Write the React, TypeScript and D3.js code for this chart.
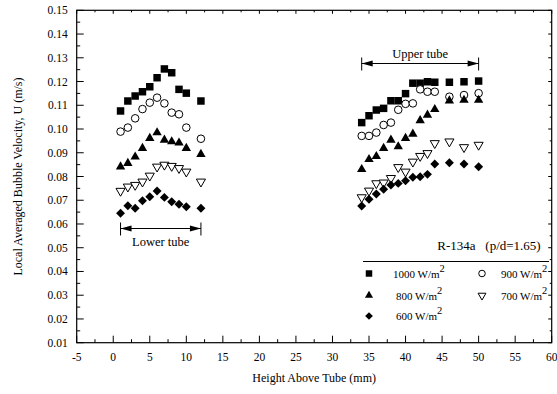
import { useEffect, useRef } from 'react'
import * as d3 from 'd3'

// Posições (mm) – tubo inferior e tubo superior
const lowerX = [1, 2, 3, 4, 5, 6, 7, 8, 9, 10, 12]
const upperX = [34, 35, 36, 37, 38, 39, 40, 41, 42, 43, 44, 46, 48, 50]

// Velocidades (m/s)
const lower1000 = [0.1076, 0.1118, 0.1139, 0.1157, 0.1178, 0.1216, 0.1253, 0.1237, 0.1167, 0.1151, 0.1118]
const upper1000 = [0.1027, 0.1056, 0.108, 0.1087, 0.1119, 0.1119, 0.1149, 0.1193, 0.1193, 0.1199, 0.1197, 0.1197, 0.1199, 0.1202]
const lower900 = [0.0989, 0.1006, 0.1045, 0.1084, 0.1111, 0.1132, 0.1108, 0.1069, 0.1062, 0.1006, 0.0959]
const upper900 = [0.0971, 0.0971, 0.0985, 0.1017, 0.1027, 0.1081, 0.1106, 0.1108, 0.1167, 0.1157, 0.1157, 0.1136, 0.1143, 0.1151]
const lower800 = [0.0841, 0.0856, 0.0883, 0.0919, 0.0961, 0.0985, 0.0954, 0.0947, 0.0942, 0.0919, 0.0894]
const upper800 = [0.083, 0.0872, 0.0885, 0.0919, 0.0954, 0.0926, 0.0961, 0.0979, 0.1036, 0.1059, 0.1083, 0.1119, 0.1122, 0.1122]
const lower700 = [0.0739, 0.0757, 0.0764, 0.0778, 0.0803, 0.0841, 0.0849, 0.0844, 0.0835, 0.082, 0.0778]
const upper700 = [0.0712, 0.074, 0.0771, 0.0774, 0.0793, 0.0839, 0.082, 0.0862, 0.0886, 0.0898, 0.094, 0.0947, 0.0923, 0.0933]
const lower600 = [0.0645, 0.0677, 0.0666, 0.0698, 0.0715, 0.0739, 0.0712, 0.0694, 0.0683, 0.0673, 0.0666]
const upper600 = [0.0676, 0.0704, 0.0726, 0.0746, 0.0764, 0.0771, 0.0782, 0.0797, 0.0799, 0.0809, 0.0853, 0.0858, 0.0853, 0.0841]

const xTicks = [-5, 0, 5, 10, 15, 20, 25, 30, 35, 40, 45, 50, 55, 60]
const yTicks = [0.01, 0.02, 0.03, 0.04, 0.05, 0.06, 0.07, 0.08, 0.09, 0.1, 0.11, 0.12, 0.13, 0.14, 0.15]

const lowerTube = [1, 12]
const upperTube = [34, 50]

type Marker = 'square' | 'circle' | 'triangle' | 'triangleDown' | 'diamond'

const series: { label: string; marker: Marker; lower: number[]; upper: number[] }[] = [
  { label: '1000', marker: 'square', lower: lower1000, upper: upper1000 },
  { label: '900', marker: 'circle', lower: lower900, upper: upper900 },
  { label: '800', marker: 'triangle', lower: lower800, upper: upper800 },
  { label: '700', marker: 'triangleDown', lower: lower700, upper: upper700 },
  { label: '600', marker: 'diamond', lower: lower600, upper: upper600 },
]

const FONT = '"Liberation Serif", "Times New Roman", serif'

function drawMarker(g: any, marker: Marker, cx: number, cy: number, scale = 1) {
  if (marker === 'square') {
    g.append('path').attr('d', d3.symbol(d3.symbolSquare, 56 * scale)()).attr('transform', `translate(${cx},${cy})`).attr('fill', '#000')
  } else if (marker === 'circle') {
    g.append('circle').attr('cx', cx).attr('cy', cy).attr('r', 3.8 * Math.sqrt(scale)).attr('fill', '#fff').attr('stroke', '#000').attr('stroke-width', 1)
  } else if (marker === 'triangle') {
    g.append('path').attr('d', d3.symbol(d3.symbolTriangle, 38 * scale)()).attr('transform', `translate(${cx},${cy})`).attr('fill', '#000')
  } else if (marker === 'triangleDown') {
    g.append('path').attr('d', d3.symbol(d3.symbolTriangle, 36 * scale)()).attr('transform', `translate(${cx},${cy}) rotate(180)`).attr('fill', '#fff').attr('stroke', '#000').attr('stroke-width', 1)
  } else {
    g.append('path').attr('d', d3.symbol(d3.symbolSquare, 40 * scale)()).attr('transform', `translate(${cx},${cy}) rotate(45)`).attr('fill', '#000')
  }
}

export default function App() {
  const svgRef = useRef<SVGSVGElement>(null)

  useEffect(() => {
    const width = 557
    const height = 394
    const margin = { top: 10.3, right: 5.3, bottom: 51.3, left: 76.7 }

    const svg = d3.select(svgRef.current)
    svg.selectAll('*').remove()
    svg.attr('width', width).attr('height', height)

    const x = d3.scaleLinear().domain([-5, 60]).range([margin.left, width - margin.right])
    const y = d3.scaleLinear().domain([0.01, 0.15]).range([height - margin.bottom, margin.top])

    const x0 = x(-5), x1 = x(60), y0 = y(0.01), y1 = y(0.15)

    // Eixos com ticks para dentro
    const xMinor = d3.range(-5, 60.01, 2.5)
    const yMinor = d3.range(0.01, 0.1501, 0.005)

    const ax = svg.append('g').attr('stroke', '#000').attr('stroke-width', 1)
    xMinor.forEach((v, i) => {
      const major = i % 2 === 0
      ax.append('line').attr('x1', x(v)).attr('x2', x(v)).attr('y1', y0).attr('y2', y0 - (major ? 7 : 3.5))
      ax.append('line').attr('x1', x(v)).attr('x2', x(v)).attr('y1', y1).attr('y2', y1 + (major ? 3.5 : 2))
    })
    yMinor.forEach((v, i) => {
      const major = i % 2 === 0
      ax.append('line').attr('x1', x0).attr('x2', x0 + (major ? 7 : 3.5)).attr('y1', y(v)).attr('y2', y(v))
      ax.append('line').attr('x1', x1).attr('x2', x1 - (major ? 3.5 : 2)).attr('y1', y(v)).attr('y2', y(v))
    })
    ax.append('rect').attr('x', x0).attr('y', y1).attr('width', x1 - x0).attr('height', y0 - y1).attr('fill', 'none').attr('stroke-width', 1.2)

    svg.append('g').selectAll('text').data(xTicks).enter().append('text')
      .attr('x', d => x(d)).attr('y', y0 + 18)
      .attr('text-anchor', 'middle').attr('font-family', FONT).attr('font-size', 11.5)
      .text(d => String(d))

    svg.append('g').selectAll('text').data(yTicks).enter().append('text')
      .attr('x', x0 - 9).attr('y', d => y(d) + 4)
      .attr('text-anchor', 'end').attr('font-family', FONT).attr('font-size', 11.5)
      .text(d => d.toFixed(2))

    svg.append('text')
      .attr('x', (x0 + x1) / 2).attr('y', y0 + 39)
      .attr('text-anchor', 'middle').attr('font-family', FONT).attr('font-size', 12)
      .text('Height Above Tube (mm)')

    svg.append('text')
      .attr('transform', `translate(22,${(y0 + y1) / 2}) rotate(-90)`)
      .attr('text-anchor', 'middle').attr('font-family', FONT).attr('font-size', 12)
      .text('Local Averaged Bubble Velocity, U (m/s)')

    // Dados
    const pts = svg.append('g')
    series.forEach(s => {
      s.lower.forEach((v, i) => drawMarker(pts, s.marker, x(lowerX[i]), y(v)))
      s.upper.forEach((v, i) => drawMarker(pts, s.marker, x(upperX[i]), y(v)))
    })

    // Setas de faixa
    const rangeArrow = (range: number[], yy: number, label: string, above: boolean) => {
      const g = svg.append('g')
      const a = x(range[0]), b = x(range[1])
      g.append('line').attr('x1', a).attr('x2', b).attr('y1', yy).attr('y2', yy).attr('stroke', '#000').attr('stroke-width', 1)
      ;[a, b].forEach(px => {
        g.append('line').attr('x1', px).attr('x2', px).attr('y1', yy - 6).attr('y2', yy + 7).attr('stroke', '#000').attr('stroke-width', 1)
      })
      g.append('path').attr('d', `M${a},${yy}L${a + 11},${yy - 3}L${a + 11},${yy + 3}Z`).attr('fill', '#000')
      g.append('path').attr('d', `M${b},${yy}L${b - 11},${yy - 3}L${b - 11},${yy + 3}Z`).attr('fill', '#000')
      g.append('text')
        .attr('x', (a + b) / 2).attr('y', above ? yy - 6 : yy + 17)
        .attr('text-anchor', 'middle').attr('font-family', FONT).attr('font-size', 12.5)
        .text(label)
    }
    rangeArrow(lowerTube, 228.5, 'Lower tube', false)
    rangeArrow(upperTube, 63.5, 'Upper tube', true)

    // Legenda
    const leg = svg.append('g').attr('font-family', FONT).attr('font-size', 11)
    leg.append('text').attr('x', 489).attr('y', 250).attr('text-anchor', 'middle').attr('font-size', 13)
      .style('white-space', 'pre').text('R-134a   (p/d=1.65)')
    leg.append('line').attr('x1', 363).attr('x2', 549).attr('y1', 261.5).attr('y2', 261.5).attr('stroke', '#000').attr('stroke-width', 1.2)
    const legPos = [
      { cx: 369, cy: 273.5, tx: 393 },
      { cx: 482, cy: 273.5, tx: 501 },
      { cx: 369, cy: 295.5, tx: 396 },
      { cx: 482, cy: 295.5, tx: 501 },
      { cx: 369, cy: 316, tx: 396 },
    ]
    series.forEach((s, i) => {
      const p = legPos[i]
      drawMarker(leg, s.marker, p.cx, p.cy, 0.75)
      const t = leg.append('text').attr('x', p.tx).attr('y', p.cy + 4)
      t.append('tspan').text(`${s.label} W/m`)
      t.append('tspan').attr('dy', -6).attr('font-size', 10.5).text('2')
    })
  }, [])

  return (
    <svg ref={svgRef} style={{ position: 'fixed', left: 0, top: 0, background: '#fff' }}></svg>
  )
}
